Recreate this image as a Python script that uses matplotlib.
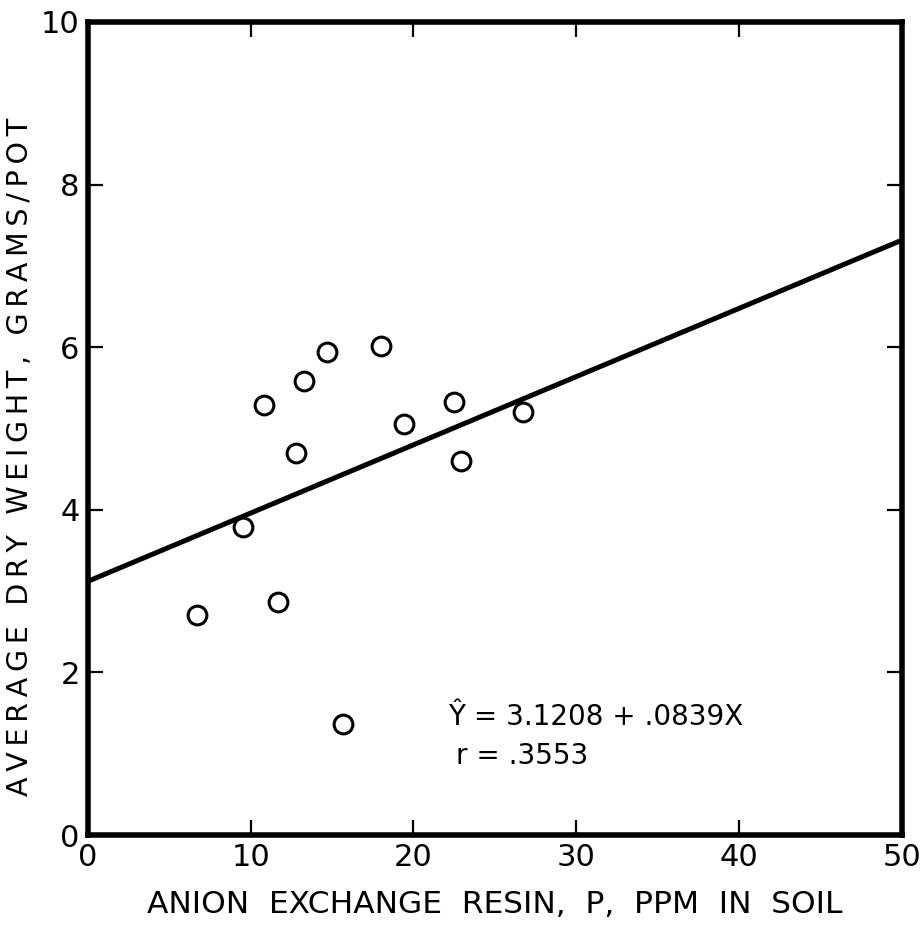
import matplotlib
matplotlib.use("Agg")
import numpy as np
import matplotlib.pyplot as plt

# resin P (ppm) vs average dry weight (g/pot)
resin_p = [6.7, 9.5, 10.8, 11.7, 12.8, 13.3, 14.7, 15.7, 18.0, 19.4, 22.5, 22.9, 26.7]
dry_weight = [2.71, 3.79, 5.29, 2.86, 4.70, 5.59, 5.94, 1.37, 6.02, 5.06, 5.33, 4.60, 5.20]

# regression line  Y = a + bX
intercept = 3.1208
slope = 0.0839
line_x = [0, 50]

x_ticks = [0, 10, 20, 30, 40, 50]
y_ticks = [0, 2, 4, 6, 8, 10]

x_title = 'ANION  EXCHANGE  RESIN,  P,  PPM  IN  SOIL'
y_title = 'AVERAGE DRY WEIGHT, GRAMS/POT'


def spaced(s):
    # the hand lettering is spread out, add a thin space between letters
    return '\u2009'.join(s)


plt.rcParams['font.family'] = ['DejaVu Sans']

fig = plt.figure(figsize=(9.22, 9.31), dpi=100)
ax = fig.add_axes([0.0954, 0.1031, 0.8826, 0.8733])

line_y = [intercept + slope * v for v in line_x]
ax.plot(line_x, line_y, color='black', lw=3.6, solid_capstyle='butt', clip_on=False)
ax.plot(resin_p, dry_weight, 'o', ms=13.5, mfc='white', mec='black', mew=2.2)

ax.set_xlim(0, 50)
ax.set_ylim(0, 10)
ax.set_xticks(x_ticks)
ax.set_yticks(y_ticks)
ax.tick_params(direction='in', length=11, width=1.6, labelsize=22,
               top=True, right=True, pad=6)
for s in ax.spines.values():
    s.set_linewidth(4)

ax.set_xlabel(x_title, fontsize=22.5, labelpad=13)
ax.set_ylabel(spaced(y_title), fontsize=20.5)
ax.yaxis.set_label_coords(-0.066, 0.465)

ax.text(22.1, 1.35, 'Ŷ = 3.1208 + .0839X', fontsize=20, va='baseline')
ax.text(22.6, 0.87, 'r = .3553', fontsize=20, va='baseline')

fig.savefig('out.png', dpi=100)
